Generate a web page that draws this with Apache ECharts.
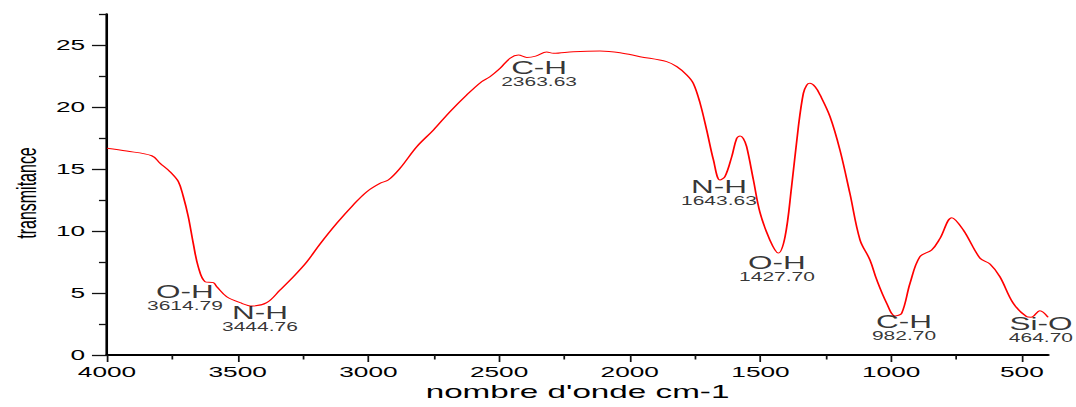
<!DOCTYPE html>
<html>
<head>
<meta charset="utf-8">
<script src="https://cdn.jsdelivr.net/npm/echarts@6/dist/echarts.min.js"></script>
<style>
  html, body { margin: 0; padding: 0; background: #fff; }
  #wrap { width: 1076px; height: 407px; overflow: hidden; position: relative; background: #fff; }
  #chart { width: 615px; height: 407px; transform: scaleX(1.749593); transform-origin: 0 0; }
</style>
</head>
<body>
<div id="wrap"><div id="chart"></div></div>
<script>
// ---- data ----
const wavenumbers = [4000, 3925, 3829, 3797, 3759, 3727, 3708, 3689, 3670, 3651, 3625, 3593, 3580, 3542, 3491, 3445, 3389, 3338, 3287, 3236, 3185, 3121, 3058, 3006, 2956, 2924, 2879, 2815, 2751, 2688, 2624, 2567, 2535, 2496, 2458, 2426, 2394, 2360, 2318, 2292, 2216, 2114, 2037, 1961, 1859, 1820, 1782, 1757, 1731, 1706, 1680, 1655, 1636, 1610, 1591, 1578, 1566, 1553, 1527, 1502, 1464, 1432, 1406, 1381, 1355, 1336, 1323, 1311, 1291, 1272, 1234, 1196, 1158, 1119, 1081, 1055, 1017, 985, 960, 928, 890, 845, 813, 768, 724, 660, 622, 584, 533, 482, 465, 431, 400];
const transmittance = [16.67, 16.45, 16.07, 15.46, 14.78, 13.98, 12.77, 11.15, 9.0, 7.12, 5.91, 5.83, 5.51, 4.70, 4.22, 3.95, 4.22, 5.24, 6.31, 7.5, 8.95, 10.62, 12.10, 13.17, 13.84, 14.11, 15.06, 16.80, 18.15, 19.62, 20.97, 22.04, 22.44, 23.12, 23.93, 24.19, 24.0, 24.1, 24.43, 24.33, 24.46, 24.52, 24.38, 24.06, 23.66, 23.25, 22.58, 21.91, 20.30, 18.15, 15.73, 14.11, 14.38, 15.99, 17.47, 17.66, 17.47, 16.80, 14.11, 11.5, 9.27, 8.22, 9.54, 13.57, 18.41, 21.1, 21.77, 21.91, 21.64, 20.97, 19.22, 16.53, 13.04, 9.27, 7.66, 6.05, 4.17, 3.15, 3.36, 5.78, 7.93, 8.47, 9.41, 11.07, 10.08, 7.80, 7.34, 6.31, 4.17, 3.09, 3.04, 3.57, 3.04];

const xTickLabels = [4000, 3500, 3000, 2500, 2000, 1500, 1000, 500];
const xMinorTicks = [3750, 3250, 2750, 2250, 1750, 1250, 750];
const yTickLabels = [0, 5, 10, 15, 20, 25];
const yMinorTicks = [2.5, 7.5, 12.5, 17.5, 22.5, 27.5];

const peakNames = ['O-H', 'N-H', 'C-H', 'N-H', 'O-H', 'C-H', 'Si-O'];
const peakWavenumbers = ['3614.79', '3444.76', '2363.63', '1643.63', '1427.70', '982.70', '464.70'];
const labelX = [3702, 3415, 2347, 1659, 1437, 951, 427];
const labelY = [4.66, 2.94, 22.68, 13.13, 7.0, 2.24, 2.06];

// ---- chart ----
const FONT = "'Liberation Sans', Arial, sans-serif";
const chart = echarts.init(document.getElementById('chart'), null, { renderer: 'svg' });

const curve = wavenumbers.map((w, i) => [w, transmittance[i]]);
const notes = peakNames.map((n, i) => [labelX[i], labelY[i], n, peakWavenumbers[i]]);

chart.setOption({
  animation: false,
  backgroundColor: '#ffffff',
  textStyle: { fontFamily: FONT, color: '#000' },
  grid: { left: 61.16, right: 16.0, top: 14, bottom: 52, containLabel: false, outerBoundsMode: 'none' },
  xAxis: [{
    type: 'value', min: 400, max: 4000, inverse: true, position: 'bottom',
    name: "nombre d'onde cm-1", nameLocation: 'middle', nameGap: 27, nameMoveOverlap: false,
    nameTextStyle: { fontFamily: FONT, fontSize: 19, color: '#000' },
    axisLine: { show: true, onZero: false, lineStyle: { color: '#000', width: 2 } },
    axisTick: { show: true, inside: false, length: 7, customValues: xTickLabels, lineStyle: { color: '#111', width: 1 } },
    axisLabel: { show: true, margin: 10, customValues: xTickLabels, formatter: v => String(v), fontFamily: FONT, fontSize: 15, color: '#000' },
    splitLine: { show: false }
  }, {
    type: 'value', min: 400, max: 4000, inverse: true, position: 'bottom', offset: 0,
    axisLine: { show: false },
    axisTick: { show: true, inside: false, length: 4.5, customValues: xMinorTicks, lineStyle: { color: '#111', width: 1 } },
    axisLabel: { show: false },
    splitLine: { show: false }
  }],
  yAxis: [{
    type: 'value', min: 0, max: 27.5, position: 'left',
    name: 'transmitance', nameLocation: 'middle', nameGap: 38, nameMoveOverlap: false,
    nameTextStyle: { fontFamily: FONT, fontSize: 16, color: '#000', padding: [0, 17, 0, 0] },
    axisLine: { show: true, onZero: false, lineStyle: { color: '#000', width: 1.5 } },
    axisTick: { show: true, inside: false, length: 8.6, customValues: yTickLabels, lineStyle: { color: '#111', width: 1.3 } },
    axisLabel: { show: true, margin: 12.5, customValues: yTickLabels, formatter: v => String(v), fontFamily: FONT, fontSize: 15, color: '#000' },
    splitLine: { show: false }
  }, {
    type: 'value', min: 0, max: 27.5, position: 'left', offset: 0,
    axisLine: { show: false },
    axisTick: { show: true, inside: false, length: 4.6, customValues: yMinorTicks, lineStyle: { color: '#111', width: 1.3 } },
    axisLabel: { show: false },
    splitLine: { show: false }
  }],
  series: [{
    type: 'line',
    data: curve,
    xAxisIndex: 0, yAxisIndex: 0,
    smooth: 0.35,
    showSymbol: false,
    lineStyle: { color: '#ff0000', width: 1 },
    z: 2
  }, {
    type: 'scatter',
    data: notes,
    xAxisIndex: 0, yAxisIndex: 0,
    symbolSize: 0,
    silent: true,
    label: {
      show: true,
      position: 'inside',
      formatter: p => '{a|' + p.data[2] + '}\n{b|' + p.data[3] + '}',
      rich: {
        a: { fontFamily: FONT, fontSize: 18, lineHeight: 17, color: '#000', align: 'center' },
        b: { fontFamily: FONT, fontSize: 12, lineHeight: 12, color: '#000', align: 'center' }
      }
    },
    z: 3
  }]
});
</script>
</body>
</html>
